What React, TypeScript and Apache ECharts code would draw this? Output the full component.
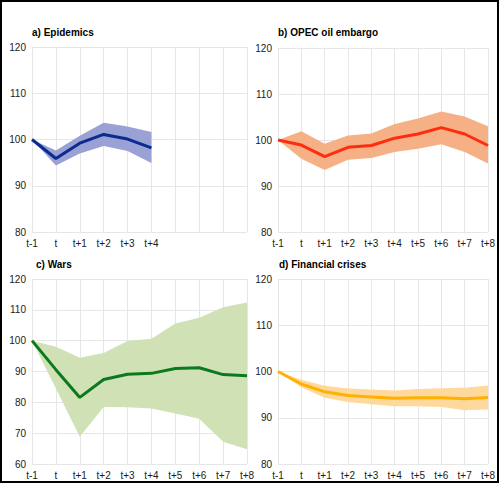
import React, { useEffect, useRef } from "react";
import * as echarts from "echarts";

const categories = ["t-1", "t", "t+1", "t+2", "t+3", "t+4", "t+5", "t+6", "t+7", "t+8"];

const titles = ["a) Epidemics", "b) OPEC oil embargo", "c) Wars", "d) Financial crises"];

const epiMid = [100, 95.9, 99.2, 101.1, 100.1, 98.2];
const epiHigh = [100, 97.6, 100.8, 103.6, 102.8, 101.6];
const epiLow = [100, 94.4, 97.0, 98.6, 97.5, 94.9];

const opecMid = [100, 98.9, 96.4, 98.4, 98.8, 100.4, 101.3, 102.7, 101.3, 98.8];
const opecHigh = [100, 101.9, 99.2, 101.0, 101.4, 103.5, 104.7, 106.2, 105.1, 103.0];
const opecLow = [100, 95.9, 93.5, 95.7, 96.1, 97.4, 98.1, 99.1, 97.4, 94.9];

const warMid = [100, 90.6, 81.6, 87.4, 89.1, 89.4, 91.0, 91.2, 89.0, 88.6];
const warHigh = [100, 98.0, 94.5, 96.0, 99.9, 100.6, 105.6, 107.4, 110.8, 112.4];
const warLow = [100, 84.5, 68.8, 78.5, 78.4, 78.0, 76.4, 74.7, 67.2, 64.8];

const finMid = [100, 97.3, 95.6, 94.8, 94.5, 94.2, 94.3, 94.3, 94.1, 94.4];
const finHigh = [100, 98.2, 96.9, 96.3, 96.1, 95.9, 96.2, 96.4, 96.5, 97.0];
const finLow = [100, 96.6, 94.3, 93.4, 92.9, 92.5, 92.5, 92.3, 91.6, 91.8];

const panels = [
  { mid: epiMid, high: epiHigh, low: epiLow, band: "#99a1d5", line: "#0b2b8f", min: 80, max: 120, interval: 10, grid: { left: 32, top: 47, width: 215, height: 185 }, title: [32, 32] },
  { mid: opecMid, high: opecHigh, low: opecLow, band: "#f5b185", line: "#ff2d10", min: 80, max: 120, interval: 10, grid: { left: 278, top: 48, width: 210, height: 184 }, title: [278, 32] },
  { mid: warMid, high: warHigh, low: warLow, band: "#d0e2b5", line: "#0b7a1f", min: 60, max: 120, interval: 10, grid: { left: 32, top: 279, width: 215, height: 185 }, title: [36, 264] },
  { mid: finMid, high: finHigh, low: finLow, band: "#ffd99c", line: "#ffb000", min: 80, max: 120, interval: 10, grid: { left: 278, top: 279, width: 210, height: 185 }, title: [279, 264] },
];

export default function App() {
  const ref = useRef<HTMLDivElement>(null);
  useEffect(() => {
    document.body.style.margin = "0";
    const chart = echarts.init(ref.current!, null, { renderer: "svg" });
    const grids: any[] = [];
    const xAxes: any[] = [];
    const yAxes: any[] = [];
    const series: any[] = [];
    const graphics: any[] = [];
    panels.forEach((p, i) => {
      grids.push({ ...p.grid });
      const n = p.mid.length;
      xAxes.push({
        type: "category",
        gridIndex: i,
        data: categories,
        boundaryGap: false,
        axisLine: { show: false },
        axisTick: { show: false },
        axisLabel: {
          interval: 0,
          fontSize: 10,
          fontFamily: "Liberation Sans, Arial",
          color: "#1a1a1a",
          margin: 6,
          formatter: (v: string, idx: number) => (idx < n ? v : ""),
        },
        splitLine: { show: true, lineStyle: { color: "#e6e6e6", width: 1 } },
      });
      yAxes.push({
        type: "value",
        gridIndex: i,
        min: p.min,
        max: p.max,
        interval: p.interval,
        axisLine: { show: false },
        axisTick: { show: false },
        axisLabel: { fontSize: 10, fontFamily: "Liberation Sans, Arial", color: "#1a1a1a", margin: 6 },
        splitLine: { show: true, lineStyle: { color: "#e6e6e6", width: 1 } },
      });
      const diff = p.high.map((h, k) => +(h - p.low[k]).toFixed(2));
      series.push({
        type: "line",
        xAxisIndex: i,
        yAxisIndex: i,
        stack: "band" + i,
        data: p.low,
        symbol: "none",
        lineStyle: { opacity: 0 },
        silent: true,
      });
      series.push({
        type: "line",
        xAxisIndex: i,
        yAxisIndex: i,
        stack: "band" + i,
        data: diff,
        symbol: "none",
        lineStyle: { opacity: 0 },
        areaStyle: { color: p.band, opacity: 1 },
        silent: true,
      });
      series.push({
        type: "line",
        xAxisIndex: i,
        yAxisIndex: i,
        data: p.mid,
        symbol: "none",
        lineStyle: { color: p.line, width: 3 },
        silent: true,
      });
      graphics.push({
        type: "text",
        x: p.title[0],
        y: p.title[1],
        style: {
          text: titles[i],
          fontSize: 10,
          fontWeight: "bold",
          fontFamily: "Liberation Sans, Arial",
          fill: "#000",
          verticalAlign: "middle",
        },
      });
    });
    graphics.push({
      type: "rect",
      shape: { x: 1, y: 1, width: 497, height: 481 },
      style: { fill: "none", stroke: "#000", lineWidth: 2 },
      silent: true,
    });
    chart.setOption({
      animation: false,
      backgroundColor: "#fff",
      grid: grids,
      xAxis: xAxes,
      yAxis: yAxes,
      series,
      graphic: graphics,
    });
    return () => chart.dispose();
  }, []);
  return <div ref={ref} style={{ width: 501, height: 485 }} />;
}
